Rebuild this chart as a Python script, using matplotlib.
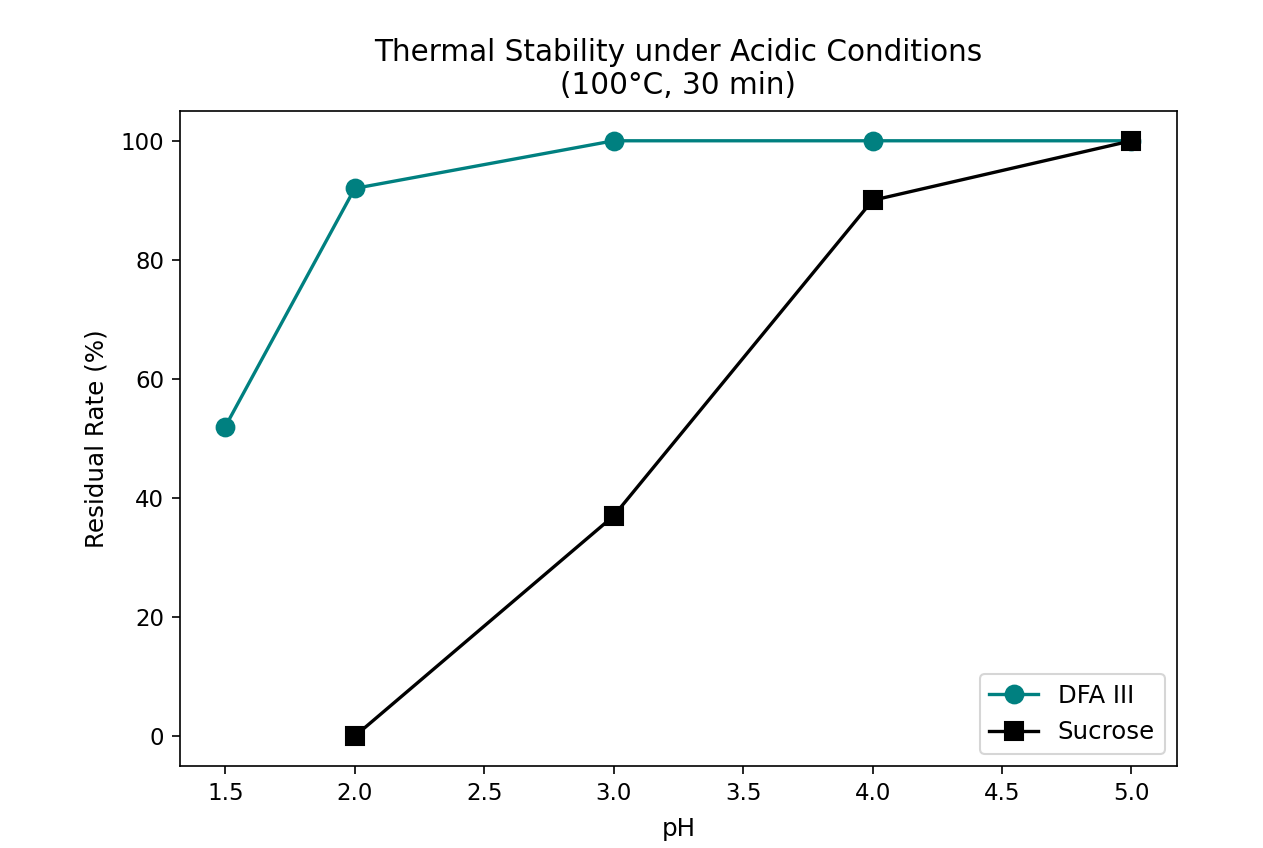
import matplotlib
matplotlib.use("Agg")
from matplotlib import pyplot as plt

# data
ph_dfa = [1.5, 2.0, 3.0, 4.0, 5.0]
residual_dfa = [52, 92, 100, 100, 100]
ph_sucrose = [2.0, 3.0, 4.0, 5.0]
residual_sucrose = [0, 37, 90, 100]

fig = plt.figure(figsize=(1264 / 150, 848 / 150), dpi=150)
ax = fig.add_axes([0.1424, 0.0967, 0.7886, 0.7724])

ax.plot(ph_dfa, residual_dfa, color="teal", marker="o", markersize=8.5, linewidth=1.6, label="DFA III")
ax.plot(ph_sucrose, residual_sucrose, color="black", marker="s", markersize=8.5, linewidth=1.6, label="Sucrose")

ax.set_title("Thermal Stability under Acidic Conditions\n(100°C, 30 min)", fontsize=14.2, pad=8)
ax.set_xlabel("pH", fontsize=11.8, labelpad=6)
ax.set_ylabel("Residual Rate (%)", fontsize=11.8, labelpad=6)
ax.tick_params(labelsize=11, length=4)
ax.set_ylim(-5, 105)
ax.legend(loc="lower right", fontsize=11.7)

fig.savefig("out.png", dpi=150)
